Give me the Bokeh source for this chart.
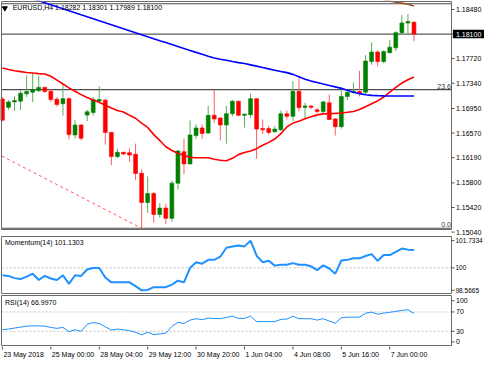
from bokeh.plotting import figure
from bokeh.layouts import column
from bokeh.models import ColumnDataSource, Range1d
from bokeh.core.properties import value
from bokeh.embed import file_html
from bokeh.resources import INLINE

# ---------------- data ----------------
opens = [1.17097, 1.16968, 1.17052, 1.17063, 1.17176, 1.17202, 1.17227, 1.17276, 1.17217, 1.17093,
         1.17023, 1.17102, 1.16541, 1.16695, 1.16848, 1.16888, 1.17067, 1.17078, 1.16580, 1.16207,
         1.16273, 1.16267, 1.16243, 1.15949, 1.15497, 1.15636, 1.15313, 1.15412, 1.15253, 1.15796,
         1.16282, 1.16094, 1.16531, 1.16650, 1.16571, 1.16844, 1.16803, 1.16695, 1.16869, 1.17063,
         1.16844, 1.16854, 1.17102, 1.16639, 1.16639, 1.16590, 1.16620, 1.16869, 1.16829, 1.17217,
         1.16968, 1.16988, 1.16929, 1.16903, 1.17038, 1.16789, 1.16669, 1.17137, 1.17197, 1.17212,
         1.17202, 1.17674, 1.17823, 1.17674, 1.17813, 1.17887, 1.18122, 1.18271, 1.18282]
highs = [1.17127, 1.17078, 1.17137, 1.17227, 1.17460, 1.17515, 1.17451, 1.17287, 1.17251, 1.17127,
         1.17336, 1.17127, 1.16769, 1.16705, 1.16929, 1.17127, 1.17291, 1.17102, 1.16590, 1.16332,
         1.16282, 1.16332, 1.16407, 1.16009, 1.15900, 1.15661, 1.15487, 1.15477, 1.15834, 1.16307,
         1.16481, 1.16765, 1.16705, 1.16705, 1.16988, 1.17236, 1.16803, 1.16988, 1.17078, 1.17063,
         1.16863, 1.17176, 1.17110, 1.16780, 1.16680, 1.16680, 1.16918, 1.16918, 1.17376, 1.17436,
         1.17038, 1.17003, 1.16953, 1.17067, 1.17167, 1.16803, 1.17276, 1.17227, 1.17351, 1.17534,
         1.17773, 1.17972, 1.17847, 1.17847, 1.18011, 1.18145, 1.18394, 1.18409, 1.18301]
lows = [1.16754, 1.16929, 1.16918, 1.16929, 1.17127, 1.17052, 1.17202, 1.17187, 1.17052, 1.16978,
        1.16839, 1.16471, 1.16490, 1.16456, 1.16754, 1.16839, 1.17052, 1.16392, 1.16073, 1.16183,
        1.16232, 1.16124, 1.15845, 1.15099, 1.15338, 1.15189, 1.15263, 1.15163, 1.15199, 1.15696,
        1.15934, 1.16083, 1.16481, 1.16481, 1.16556, 1.16729, 1.16456, 1.16407, 1.16829, 1.16829,
        1.16654, 1.16803, 1.16173, 1.16556, 1.16546, 1.16580, 1.16605, 1.16780, 1.16754, 1.16903,
        1.16803, 1.16938, 1.16878, 1.16878, 1.16769, 1.16531, 1.16639, 1.17078, 1.17176, 1.17137,
        1.17176, 1.17624, 1.17600, 1.17649, 1.17798, 1.17838, 1.18096, 1.18081, 1.17989]
closes = [1.16769, 1.17052, 1.17072, 1.17187, 1.17212, 1.17242, 1.17276, 1.17212, 1.17087, 1.17012,
          1.17102, 1.16546, 1.16695, 1.16490, 1.16899, 1.17087, 1.17087, 1.16580, 1.16207, 1.16273,
          1.16247, 1.16232, 1.15945, 1.15497, 1.15636, 1.15313, 1.15412, 1.15253, 1.15796, 1.16292,
          1.16094, 1.16541, 1.16650, 1.16565, 1.16844, 1.16789, 1.16695, 1.16869, 1.17063, 1.16844,
          1.16863, 1.17102, 1.16631, 1.16620, 1.16580, 1.16631, 1.16869, 1.16829, 1.17217, 1.16963,
          1.16988, 1.16968, 1.16903, 1.17052, 1.16780, 1.16669, 1.17137, 1.17202, 1.17217, 1.17187,
          1.17683, 1.17823, 1.17674, 1.17832, 1.17898, 1.18122, 1.18271, 1.18294, 1.18100]

ma_red = [1.17574, 1.17552, 1.17534, 1.17519, 1.17507, 1.17497, 1.17489, 1.17482, 1.17448, 1.17388,
          1.17328, 1.17269, 1.17217, 1.17164, 1.17120, 1.17082, 1.17045, 1.17000, 1.16956, 1.16918,
          1.16896, 1.16844, 1.16799, 1.16724, 1.16657, 1.16546, 1.16456, 1.16359, 1.16300, 1.16258,
          1.16225, 1.16195, 1.16188, 1.16188, 1.16188, 1.16165, 1.16150, 1.16143, 1.16180, 1.16237,
          1.16270, 1.16292, 1.16329, 1.16382, 1.16426, 1.16478, 1.16560, 1.16665, 1.16724, 1.16754,
          1.16792, 1.16821, 1.16851, 1.16866, 1.16869, 1.16874, 1.16881, 1.16891, 1.16903, 1.16933,
          1.16978, 1.17023, 1.17067, 1.17127, 1.17202, 1.17276, 1.17343, 1.17395, 1.17436]
ma_blue = [1.18801, 1.18770, 1.18739, 1.18707, 1.18678, 1.18646, 1.18615, 1.18584, 1.18552, 1.18521,
           1.18491, 1.18460, 1.18429, 1.18397, 1.18368, 1.18336, 1.18305, 1.18275, 1.18244, 1.18212,
           1.18183, 1.18151, 1.18120, 1.18090, 1.18059, 1.18029, 1.17998, 1.17968, 1.17938, 1.17907,
           1.17877, 1.17847, 1.17817, 1.17788, 1.17758, 1.17731, 1.17712, 1.17694, 1.17676, 1.17659,
           1.17644, 1.17624, 1.17604, 1.17582, 1.17562, 1.17542, 1.17522, 1.17504, 1.17477, 1.17440,
           1.17403, 1.17373, 1.17351, 1.17328, 1.17306, 1.17284, 1.17261, 1.17231, 1.17202, 1.17179,
           1.17161, 1.17152, 1.17148, 1.17145, 1.17143, 1.17142, 1.17142, 1.17142, 1.17142]
ma_brown_bars = [62, 63, 64, 65, 66, 67, 68]
ma_brown = [1.18650, 1.18630, 1.18610, 1.18590, 1.18578, 1.18560, 1.18533]

momentum = [99.528, 99.485, 99.344, 99.283, 99.442, 99.626, 99.222, 99.485, 99.320, 99.222,
            99.528, 98.977, 99.528, 99.485, 99.896, 99.994, 99.994, 99.381, 99.075, 99.075,
            99.075, 99.075, 98.830, 98.5665, 98.590, 98.768, 98.768, 98.768, 98.934, 99.179,
            99.075, 99.994, 100.361, 100.263, 100.508, 100.508, 100.710, 101.280, 101.366, 101.427,
            101.366, 101.7334, 100.772, 100.361, 100.447, 100.141, 100.202, 100.202, 100.300, 100.202,
            100.202, 100.098, 99.853, 100.159, 99.957, 99.626, 100.465, 100.508, 100.606, 100.606,
            100.753, 100.876, 100.447, 100.815, 100.815, 101.017, 101.230, 101.160, 101.1303]
rsi = [33.2, 34.6, 36.6, 38.6, 40.6, 41.2, 41.2, 40.6, 38.0, 36.0,
       38.0, 29.2, 33.2, 30.0, 44.6, 48.0, 46.0, 39.2, 32.6, 34.6,
       33.2, 31.2, 28.0, 22.6, 28.0, 23.2, 24.6, 26.0, 40.0, 48.6,
       46.0, 53.2, 56.0, 54.0, 57.2, 56.6, 56.0, 58.6, 61.2, 56.6,
       56.6, 61.2, 50.0, 50.0, 50.0, 50.0, 54.6, 55.2, 61.2, 56.0,
       56.0, 56.0, 53.2, 56.0, 51.2, 46.6, 58.0, 59.2, 59.2, 59.2,
       67.3, 69.6, 65.3, 67.6, 69.2, 71.2, 73.2, 74.6, 66.997]

x_tick_bars = [0, 8, 16, 24, 32, 40, 48, 56, 64]
x_tick_labels = ["23 May 2018", "25 May 00:00", "28 May 04:00", "29 May 12:00", "30 May 20:00",
                 "1 Jun 04:00", "4 Jun 08:00", "5 Jun 16:00", "7 Jun 00:00"]
price_ticks = [1.18480, 1.17720, 1.17340, 1.16950, 1.16570, 1.16190, 1.15800, 1.15420, 1.15040]
current_price = 1.18100
fib_levels = ["0.0", "23.6", "38.2"]
fib_prices = [1.15099, 1.17242, 1.18568]
fib_diag_x = [-1, 23]
fib_diag_y = [1.16258, 1.15099]
mom_ticks = [98.5665, 100.0, 101.7334]
mom_tick_labels = ["98.5665", "100", "101.7334"]
mom_level = 100.0
rsi_levels = [30, 70]
rsi_tick_pos = [8.0, 30.0, 70.0, 93.2]
rsi_tick_labels = ["0", "30", "70", "100"]

# ---------------- styling ----------------
FONT = "Liberation Sans"
FS = "7px"
W = 484
PX_PER_BAR = 450 / 74.35
X0, X1 = -0.15, 74.2            # chart box (bars)
XSTART = X0 - 1 / PX_PER_BAR
XEND = XSTART + W / PX_PER_BAR
TICK_X1 = X1 + 3 / PX_PER_BAR
LBL_X = X1 + 4.5 / PX_PER_BAR
OUTLINE = "#6a6a6a"
TXT = dict(text_font=value(FONT), text_font_size=FS, text_color="#000000")
n = len(opens)
idx = list(range(n))
xr = Range1d(XSTART, XEND)


def panel(frame_h, y0, y1):
    p = figure(width=W, height=frame_h, x_range=xr, y_range=Range1d(y0, y1),
               output_backend="svg", toolbar_location=None,
               min_border_left=0, min_border_right=0, min_border_top=0, min_border_bottom=0)
    p.axis.visible = False
    p.grid.visible = False
    p.outline_line_color = None
    p.background_fill_color = "white"
    p.border_fill_color = "white"
    return p


def chart_box(p, ybot, ytop):
    p.quad(left=[X0], right=[X1], bottom=[ybot], top=[ytop], fill_color=None,
           line_color=OUTLINE, line_width=1)


def right_ticks(p, pos, labels, fs=FS, lx=LBL_X):
    m = len(pos)
    p.segment(x0=[X1] * m, y0=pos, x1=[TICK_X1] * m, y1=pos, line_color="#505050", line_width=1)
    p.text(x=[lx] * m, y=pos, text=labels, text_baseline="middle", text_align="left",
           text_font=value(FONT), text_font_size=fs, text_color="#000000")


# ---- main price panel: box 1.15080..1.18603 over 228 px ----
ppx = (1.18603 - 1.15080) / 228
p1 = panel(235, 1.15080 - 6 * ppx, 1.18603 + 1 * ppx)

p1.segment(x0=[X0] * len(fib_prices), y0=fib_prices, x1=[X1] * len(fib_prices), y1=fib_prices,
           line_color="#4d4d4d", line_width=1.2)
p1.segment(x0=[X0], y0=[current_price], x1=[X1], y1=[current_price], line_color="#5a5a5a",
           line_width=1.2)
p1.line(fib_diag_x, fib_diag_y, line_color="#ff3030", line_width=1, line_dash="3 3", line_alpha=0.8)

up = [c >= o for o, c in zip(opens, closes)]
src = ColumnDataSource(dict(
    x=idx,
    top=[max(o, c) for o, c in zip(opens, closes)],
    bottom=[min(o, c) for o, c in zip(opens, closes)],
    high=highs, low=lows,
    body=["#008000" if u else "#ff0000" for u in up],
    wick=["#5aad5a" if u else "#ff6060" for u in up],
))
p1.segment(x0="x", y0="low", x1="x", y1="high", source=src, line_color="wick", line_width=1)
p1.vbar(x="x", width=0.64, top="top", bottom="bottom", source=src,
        fill_color="body", line_color="body", line_width=0.6)

p1.line(idx, ma_red, line_color="#ff0000", line_width=1.6)
p1.line(idx, ma_blue, line_color="#0000ff", line_width=1.6)
p1.line(ma_brown_bars, ma_brown, line_color="#a0522d", line_width=1.6)

# white cover above the box top / right of the box so out-of-box line parts stay hidden
p1.quad(left=[XSTART], right=[XEND], bottom=[1.18603], top=[1.19], fill_color="white",
        line_color=None)
p1.quad(left=[X1], right=[XEND], bottom=[1.14], top=[1.19], fill_color="white", line_color=None)
chart_box(p1, 1.15080, 1.18603)

p1.text(x=[X1 - 0.1, X1 - 0.1], y=fib_prices[:2], text=fib_levels[:2], text_align="right",
        text_baseline="bottom", y_offset=-1, text_font=value(FONT), text_font_size=FS,
        text_color="#333333")

title = "EURUSD,H4 %.5f %.5f %.5f %.5f" % (opens[-1], highs[-1], lows[-1], closes[-1])
p1.scatter(x=[0.4], y=[1.18500], marker="inverted_triangle", size=5, fill_color="#000000",
           line_color="#000000")
p1.text(x=[1.7], y=[1.18503], text=[title], text_baseline="middle", **TXT)

right_ticks(p1, price_ticks, ["%.5f" % t for t in price_ticks])
# current price marker box
p1.segment(x0=[X1], y0=[current_price], x1=[TICK_X1], y1=[current_price], line_color="#505050")
p1.rect(x=[(X1 + XEND) / 2 + 0.15], y=[current_price], width=W - 452, height=8.5,
        width_units="screen", height_units="screen", fill_color="#000000", line_color=None)
p1.text(x=[LBL_X], y=[current_price], text=["%.5f" % current_price], text_baseline="middle",
        text_align="left", text_font=value(FONT), text_font_size=FS, text_color="#ffffff")

# ---- momentum panel: box 98.364..101.997 over 57 px ----
mpx = (101.997 - 98.364) / 57
p2 = panel(59, 98.364 - mpx, 101.997 + mpx)
p2.segment(x0=[X0], y0=[mom_level], x1=[X1], y1=[mom_level], line_color="#c4c4c4", line_width=1,
           line_dash="2 2")
p2.line(idx, momentum, line_color="#1e90ff", line_width=2)
chart_box(p2, 98.364, 101.997)
p2.text(x=[0.43], y=[101.586], text=["Momentum(14) %.4f" % momentum[-1]], text_baseline="middle",
        **TXT)
right_ticks(p2, mom_ticks, mom_tick_labels, fs="6.5px", lx=X1 + 4 / PX_PER_BAR)

# ---- RSI panel: box 0.6..104 over 50 px ----
rpx = (104 - 0.6) / 50
p3 = panel(52, 0.6 - rpx, 104 + rpx)
p3.segment(x0=[X0] * len(rsi_levels), y0=rsi_levels, x1=[X1] * len(rsi_levels), y1=rsi_levels,
           line_color="#c4c4c4", line_width=1, line_dash="2 2")
p3.line(idx, rsi, line_color="#1e90ff", line_width=1)
chart_box(p3, 0.6, 104)
p3.text(x=[0.43], y=[90], text=["RSI(14) %.4f" % rsi[-1]], text_baseline="middle", **TXT)
right_ticks(p3, rsi_tick_pos, rsi_tick_labels)

# ---- time labels strip ----
p4 = panel(13, 0, 13)
p4.segment(x0=x_tick_bars, y0=[13] * len(x_tick_bars), x1=x_tick_bars, y1=[10] * len(x_tick_bars),
           line_color="#505050", line_width=1)
p4.text(x=x_tick_bars, y=[5] * len(x_tick_bars), text=x_tick_labels, text_align="left",
        text_baseline="middle", x_offset=1, **TXT)

layout = column(p1, p2, p3, p4, spacing=0)
open("out.html", "w").write(file_html(layout, INLINE))
